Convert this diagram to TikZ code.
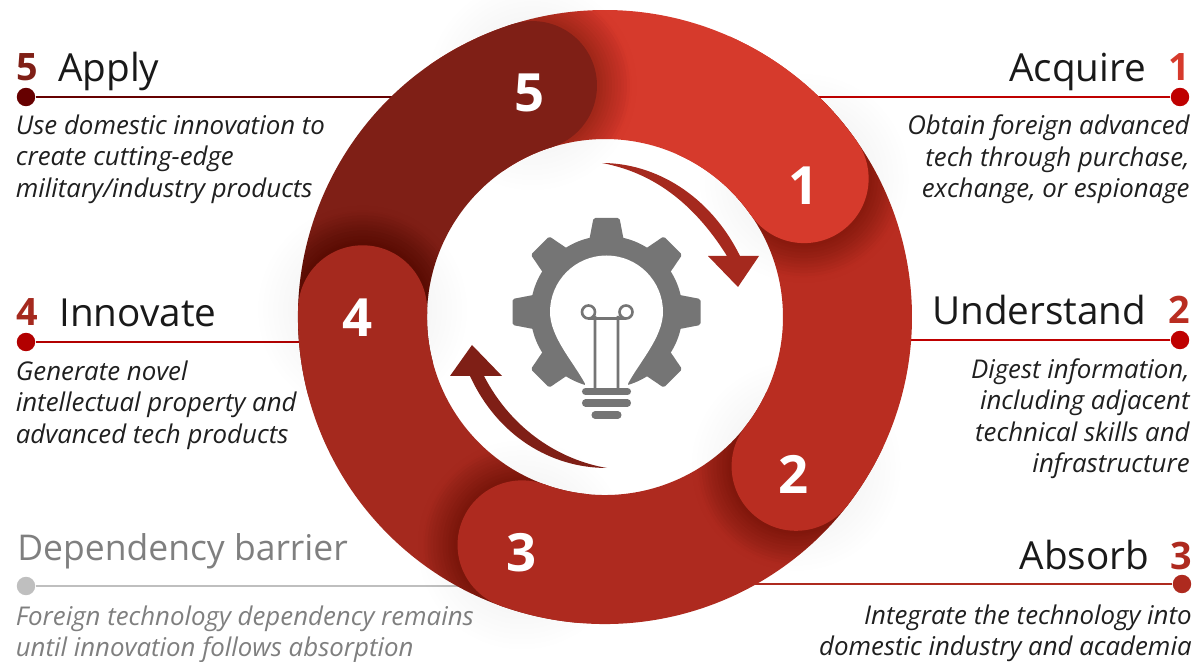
\documentclass[tikz,border=0pt]{standalone}
\usepackage{fontspec}
\setmainfont{Open Sans}
\definecolor{segA}{HTML}{D63A2C}
\definecolor{segB}{HTML}{B92D21}
\definecolor{segC}{HTML}{AE2A1F}
\definecolor{segD}{HTML}{A5291E}
\definecolor{segE}{HTML}{7F1F16}
\definecolor{bulb}{HTML}{757575}
\definecolor{muted}{HTML}{7F7F7F}
\tikzset{title/.style={inner sep=0pt,font=\fontsize{22}{26}\selectfont,text=black!90}}
\tikzset{stepnum/.style={inner sep=0pt,font=\fontsize{21.5}{26}\selectfont\bfseries}}
\tikzset{descL/.style={inner sep=0pt,anchor=north west,align=left,font=\fontsize{14.7}{17.9}\selectfont\itshape,text=black!88}}
\tikzset{descR/.style={inner sep=0pt,anchor=north east,align=right,font=\fontsize{14.7}{17.9}\selectfont\itshape,text=black!88}}
\tikzset{dot/.style={circle,inner sep=0pt,minimum size=10.5pt}}
\tikzset{lead/.style={line width=1.2pt}}
\tikzset{ringnum/.style={inner sep=0pt,text=white,font=\fontsize{30}{30}\selectfont\bfseries}}
\newcommand{\ringseg}[3]{
    \foreach \s in {5,10,...,40} \fill[black,opacity=.005] (#2:242.5) circle ({64.5+\s});
    \begin{scope}[even odd rule]
      \clip (0,0) circle (307) (0,0) circle (178);
      \foreach \s in {3,6,...,33} \fill[black,opacity=.019] (#2:242.5) circle ({64.5+\s});
    \end{scope}
    \fill[#1] (#2:178) arc[start angle=#2,end angle=#3,radius=178] -- (#3:307) arc[start angle=#3,end angle=#2,radius=307] -- cycle;
    \fill[#1] (#2:242.5) circle (64.5);
}
\begin{document}
\begin{tikzpicture}[x=0.02cm,y=0.02cm]
    \useasboundingbox (0,0) rectangle (1198,-662);
    \node[stepnum,anchor=base west,text=segE] (num5) at (16,-81) {5};
    \node[title,anchor=base west] (title5) at (58,-81.5) {Apply};
    \node[dot,fill=red!40!black] (dot5) at (26,-97) {};
    \coordinate (end5) at (400,-97);
    \draw[lead,red!40!black] (dot5) -- (end5);
    \node[descL] (desc5) at (15.5,-114.5) {Use domestic innovation to\\create cutting-edge\\military/industry products};
    \node[stepnum,anchor=base west,text=segD] (num4) at (16,-326) {4};
    \node[title,anchor=base west] (title4) at (59,-326.5) {Innovate};
    \node[dot,fill=red!70!black] (dot4) at (26,-342) {};
    \coordinate (end4) at (310,-342);
    \draw[lead,red!70!black] (dot4) -- (end4);
    \node[descL] (desc4) at (15.5,-360.5) {Generate novel\\intellectual property and\\advanced tech products};
    \node[title,anchor=base west,text=muted,font=\fontsize{20.2}{26}\selectfont] (title0) at (17,-561) {Dependency barrier};
    \node[dot,fill=black!25] (dot0) at (26,-586) {};
    \coordinate (end0) at (470,-586);
    \draw[lead,black!25] (dot0) -- (end0);
    \node[descL,text=muted] (desc0) at (15.5,-605.5) {Foreign technology dependency remains\\until innovation follows absorption};
    \node[stepnum,anchor=base east,text=segA] (num1) at (1190,-81) {1};
    \node[title,anchor=base east] (title1) at (1146.5,-81.5) {Acquire};
    \node[dot,fill=red!75!black] (dot1) at (1180,-97) {};
    \coordinate (end1) at (810,-97);
    \draw[lead,red!75!black] (dot1) -- (end1);
    \node[descR] (desc1) at (1190,-114.5) {Obtain foreign advanced\\tech through purchase,\\exchange, or espionage};
    \node[stepnum,anchor=base east,text=segB] (num2) at (1190,-324) {2};
    \node[title,anchor=base east] (title2) at (1146.5,-324.5) {Understand};
    \node[dot,fill=red!75!black] (dot2) at (1180,-340) {};
    \coordinate (end2) at (905,-340);
    \draw[lead,red!75!black] (dot2) -- (end2);
    \node[descR] (desc2) at (1190,-358) {Digest information,\\including adjacent\\technical skills and\\infrastructure};
    \node[stepnum,anchor=base east,text=segC] (num3) at (1192,-569) {3};
    \node[title,anchor=base east] (title3) at (1149.5,-569.5) {Absorb};
    \node[dot,fill=segC] (dot3) at (1182,-584) {};
    \coordinate (end3) at (750,-584);
    \draw[lead,segC] (dot3) -- (end3);
    \node[descR] (desc3) at (1192,-604.5) {Integrate the technology into\\domestic industry and academia};
    \begin{scope}[shift={(605,-317)}]
      \fill[segA] (34.8:178) arc[start angle=34.8,end angle=125,radius=178] -- (125:307) arc[start angle=125,end angle=34.8,radius=307] -- cycle;
      \ringseg{segE}{107.4}{195}
      \ringseg{segD}{178.3}{265}
      \ringseg{segC}{250}{335}
      \ringseg{segB}{-38}{45}
      \ringseg{segA}{34.8}{66}
    \end{scope}
    \node[ringnum] (head5) at (530,-93) {5};
    \node[ringnum] (head1) at (804,-186) {1};
    \node[ringnum] (head2) at (794,-474) {2};
    \node[ringnum] (head3) at (522,-553) {3};
    \node[ringnum] (head4) at (358,-318) {4};
    \fill[segD] (602,-163) .. controls (655,-163) and (710,-195) .. (740,-256) -- (759,-256) -- (738,-287) -- (708,-256) -- (727,-256) .. controls (692,-200) and (650,-172) .. (602,-163) -- cycle;
    \fill[segE] (607,-468) .. controls (550,-468) and (497,-435) .. (470,-376) -- (450,-376) -- (472,-345) -- (502,-376) -- (484,-376) .. controls (512,-430) and (560,-460) .. (607,-468) -- cycle;
    \begin{scope}[shift={(606.5,-312)}]
      \fill[bulb] (0,0) circle (76);
      \foreach \a in {90,45,0,135,180,-45,-135}
        \fill[bulb,rounded corners=1pt,rotate=\a] (68,-18) -- (94,-13) -- (94,13) -- (68,18) -- cycle;
      \fill[white] (-21.5,-71.5) .. controls (-33,-50) and (-56.5,-25) .. (-56.5,0) arc[start angle=180,end angle=0,radius=56.5] .. controls (56.5,-25) and (33,-50) .. (21.5,-71.5) -- (21.5,-92) -- (-21.5,-92) -- cycle;
      \draw[bulb,line width=1.5pt] (-11.5,-76) -- (-11.5,-4) (11.5,-76) -- (11.5,-4) (-18,0) circle (6.5) (19.5,0) circle (6.5) (-18,-6.5) -- (19.5,-6.5);
      \draw[bulb,line width=4pt,line cap=round] (-21,-79.5) -- (21,-79.5) (-21,-91) -- (21,-91);
      \draw[bulb,line width=4pt,line cap=round] (-11.5,-103) -- (11.5,-103);
    \end{scope}
\end{tikzpicture}
\end{document}
